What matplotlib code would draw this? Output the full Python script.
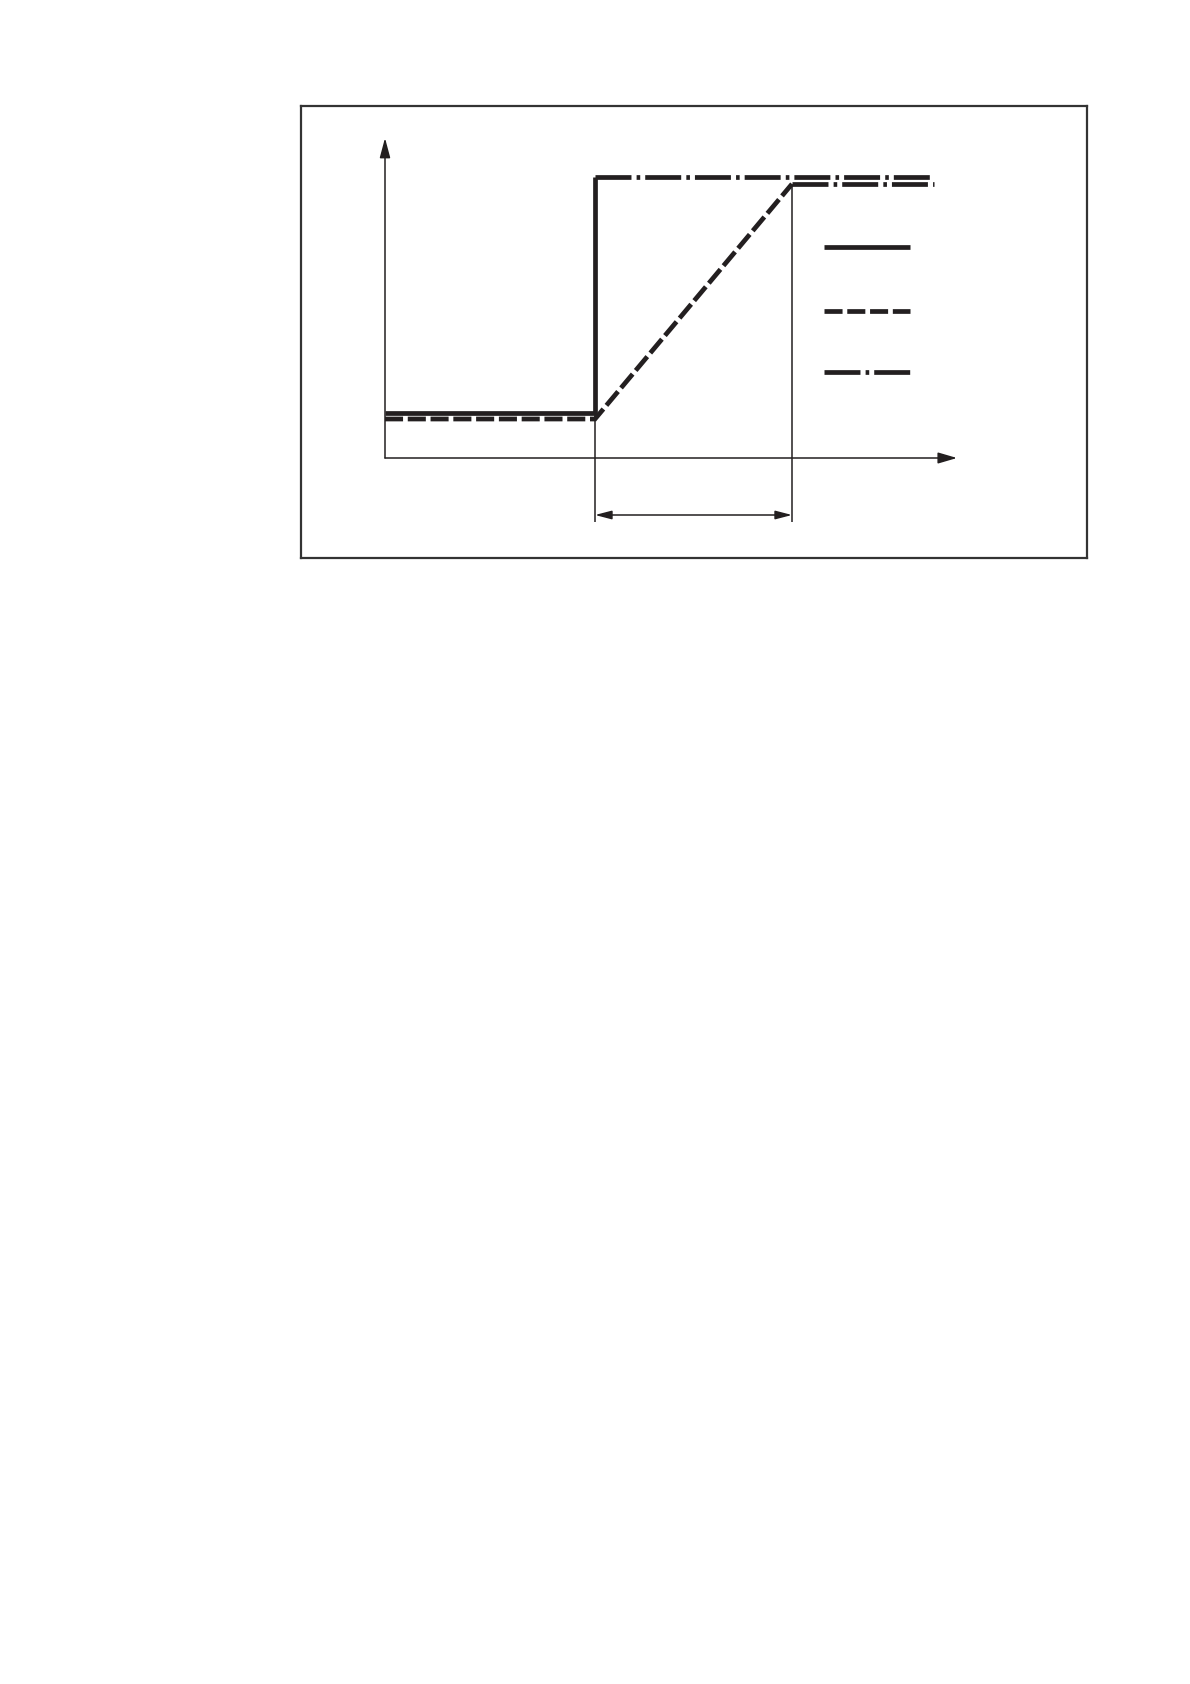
import matplotlib
matplotlib.use("Agg")
import matplotlib.pyplot as plt

plt.rcParams['lines.scale_dashes'] = False

# ---- data (arbitrary time / signal units) ----
t_step = 2.10          # instant of the step
t_ramp_end = 4.07      # end of the ramp
t_last = 5.49          # end of the drawn curves
x_axis_end = 5.72
y_axis_end = 3.20

cmd_t = [0.0, t_step, t_step]          # solid: step command
cmd_y = [0.45, 0.45, 2.81]
ramp_t = [0.0, t_step, t_ramp_end]     # dashed: ramped response
ramp_y = [0.39, 0.39, 2.74]
hold1_t = [t_step, t_last]             # dash-dot: steady level after step
hold1_y = [2.81, 2.81]
hold2_t = [t_ramp_end, t_last]         # dash-dot: steady level after ramp
hold2_y = [2.74, 2.74]

dim_y = -0.57        # level of the dimension arrow
ext_bottom = -0.64   # bottom of the extension lines

legend_x = [4.39, 5.25]
legend_levels = [2.11, 1.47, 0.86]

INK = '#231f20'
LW = 3.4
DASHED = (0, (13.0, 3.4))
DASHDOT = (0, (25.9, 3.7, 2.6, 3.6))

fig = plt.figure(figsize=(11.9, 16.84), dpi=100)
W, H = 1190, 1684
ax = fig.add_axes([301 / W, 1 - 558 / H, 786 / W, 452 / H])
ax.set_xlim(-0.84, 7.02)
ax.set_ylim(-1.00, 3.52)
ax.set_xticks([])
ax.set_yticks([])
for s in ax.spines.values():
    s.set_linewidth(1.6)
    s.set_color('#333333')

thin = 1.1
# coordinate axes with arrows
ax.annotate('', xy=(x_axis_end, 0), xytext=(0, 0),
            arrowprops=dict(arrowstyle='-|>,head_length=0.58,head_width=0.17',
                            mutation_scale=20, lw=thin, color=INK,
                            shrinkA=0, shrinkB=0))
ax.annotate('', xy=(0, y_axis_end), xytext=(0, 0),
            arrowprops=dict(arrowstyle='-|>,head_length=0.6,head_width=0.16',
                            mutation_scale=20, lw=thin, color=INK,
                            shrinkA=0, shrinkB=0))

# extension lines
ax.plot([t_step, t_step], [ext_bottom, cmd_y[0]], color=INK, lw=thin,
        solid_capstyle='butt')
ax.plot([t_ramp_end, t_ramp_end], [ext_bottom, ramp_y[-1]], color=INK, lw=thin,
        solid_capstyle='butt')
# dimension arrow
ax.annotate('', xy=(t_ramp_end, dim_y), xytext=(t_step, dim_y),
            arrowprops=dict(arrowstyle='<|-|>,head_length=0.5,head_width=0.13',
                            mutation_scale=20, lw=thin, color=INK,
                            shrinkA=0, shrinkB=0))

# curves
ax.plot(ramp_t, ramp_y, color=INK, lw=LW, linestyle=DASHED,
        dash_capstyle='butt', dash_joinstyle='miter')
ax.plot(cmd_t, cmd_y, color=INK, lw=LW, solid_capstyle='butt',
        solid_joinstyle='miter')
ax.plot(hold1_t, hold1_y, color=INK, lw=LW, linestyle=DASHDOT,
        dash_capstyle='butt')
ax.plot(hold2_t, hold2_y, color=INK, lw=LW, linestyle=DASHDOT,
        dash_capstyle='butt')

# legend samples (no text in the original)
ax.plot(legend_x, [legend_levels[0]] * 2, color=INK, lw=LW, solid_capstyle='butt')
ax.plot(legend_x, [legend_levels[1]] * 2, color=INK, lw=LW, linestyle=DASHED,
        dash_capstyle='butt')
ax.plot(legend_x, [legend_levels[2]] * 2, color=INK, lw=LW, linestyle=DASHDOT,
        dash_capstyle='butt')

fig.savefig('out.png', dpi=100)
